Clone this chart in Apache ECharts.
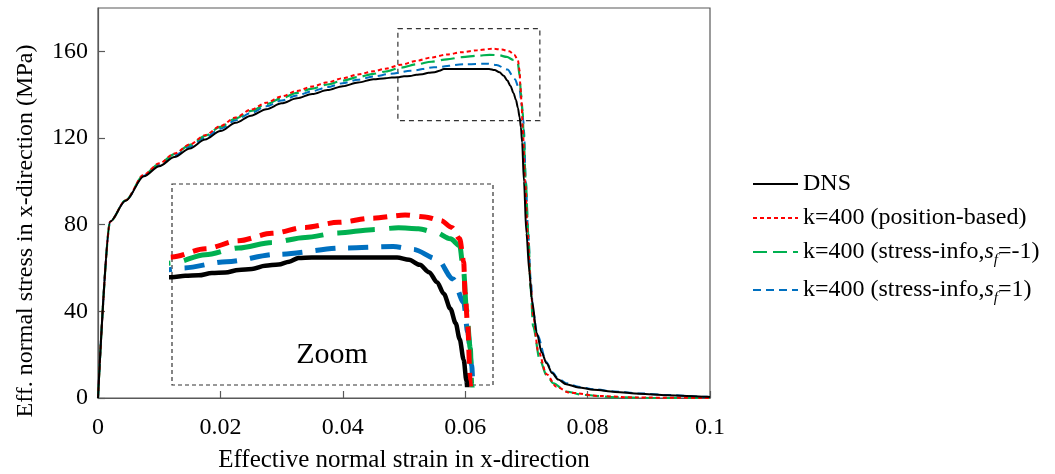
<!DOCTYPE html>
<html>
<head>
<meta charset="utf-8">
<script src="https://cdn.jsdelivr.net/npm/echarts@6/dist/echarts.min.js"></script>
<style>
html,body{margin:0;padding:0;background:#fff;}
#chart{width:1055px;height:474px;}
</style>
</head>
<body>
<div id="chart"></div>
<script>
// ---- data ----
const xTicks = [0, 0.02, 0.04, 0.06, 0.08, 0.1];
const yTicks = [0, 40, 80, 120, 160];
const yMax = 180;

const seriesNames = ['DNS', 'k=400 (position-based)', 'k=400 (stress-info,sf=-1)', 'k=400 (stress-info,sf=1)'];

const dns = [[0,0],[0.002,81.5],[0.0045,91],[0.0075,102.3],[0.01,107],[0.0125,111.2],[0.015,115.2],[0.0175,119.3],[0.02,123.2],[0.0225,127],[0.025,130.3],[0.0275,133.3],[0.03,136],[0.0325,138.3],[0.035,140.3],[0.0375,142.1],[0.04,143.9],[0.0425,145.6],[0.045,147.1],[0.047,147.6],[0.048,147.9],[0.049,148],[0.05,148.5],[0.051,148.6],[0.052,149.2],[0.053,149.4],[0.054,150.1],[0.055,150.4],[0.0558,151],[0.0565,151.8],[0.0575,151.9],[0.0639,151.9],[0.0648,151.4],[0.0656,150.3],[0.0663,148.7],[0.0669,146.5],[0.0674,144],[0.0679,140.7],[0.0683,137.5],[0.0686,134],[0.0689,129.5],[0.0691,125],[0.0693,118],[0.0696,100],[0.07,76],[0.0705,58],[0.0709,45],[0.0717,30],[0.0725,21],[0.0733,16],[0.0742,11.5],[0.0752,8.5],[0.0765,6.4],[0.0785,4.9],[0.081,3.8],[0.0845,2.8],[0.0885,2],[0.093,1.3],[0.0995,0.6],[0.1,0.5]];

const positionBased = [[0,0],[0.002,81.5],[0.0045,91.2],[0.0075,103.1],[0.01,108.3],[0.0125,112.8],[0.015,117],[0.0175,121.3],[0.02,125.5],[0.0225,129.5],[0.025,133.1],[0.0275,136.3],[0.03,139.2],[0.0325,141.7],[0.035,143.8],[0.0375,145.7],[0.04,147.6],[0.0425,149.3],[0.045,150.8],[0.047,152],[0.0495,153.8],[0.052,155.6],[0.0545,157.2],[0.057,158.5],[0.0595,159.6],[0.062,160.5],[0.0645,161.2],[0.066,160.8],[0.0672,160],[0.068,158.5],[0.0686,156],[0.0689,151],[0.069,144.3],[0.0692,137],[0.0694,124],[0.0698,100],[0.0702,76],[0.0707,52],[0.0711,38],[0.0719,22],[0.0733,11],[0.0749,5.2],[0.077,2.5],[0.082,0.9],[0.088,0.2],[0.1,0]];

const stressInfoNeg = [[0,0],[0.002,81.5],[0.0045,91.2],[0.0075,103],[0.01,108.1],[0.0125,112.6],[0.015,116.8],[0.0175,121],[0.02,125.1],[0.0225,129],[0.025,132.5],[0.0275,135.6],[0.03,138.4],[0.0325,140.8],[0.035,142.8],[0.0375,144.7],[0.04,146.5],[0.0425,148.1],[0.045,149.6],[0.047,150.7],[0.0495,152.5],[0.052,154],[0.0545,155.2],[0.057,156.3],[0.0595,157.3],[0.062,158],[0.064,158.4],[0.0655,158.2],[0.0668,157.4],[0.0679,156],[0.0686,154.5],[0.0689,148.7],[0.0691,140.7],[0.0694,132],[0.0695,124],[0.0699,100],[0.0703,76],[0.0707,50],[0.0711,33],[0.0722,17.5],[0.0733,10.5],[0.0744,6.8],[0.0765,3],[0.0793,1.4],[0.0847,0.3],[0.09,0],[0.1,0]];

const stressInfoPos = [[0,0],[0.002,81.5],[0.0045,91.1],[0.0075,102.6],[0.01,107.6],[0.0125,111.9],[0.015,116],[0.0175,120.2],[0.02,124.3],[0.0225,128.2],[0.025,131.6],[0.0275,134.6],[0.03,137.3],[0.0325,139.6],[0.035,141.6],[0.0375,143.5],[0.04,145.3],[0.0425,146.9],[0.045,148.4],[0.0478,149.6],[0.0511,151],[0.0549,152.6],[0.0599,154],[0.0636,154.3],[0.0651,153.7],[0.0669,151.6],[0.0681,147.2],[0.0689,142.1],[0.0692,135.6],[0.0695,128.3],[0.0696,124],[0.0699,100],[0.0703,76],[0.0707,55],[0.0711,40],[0.0718,29],[0.0733,16.5],[0.0742,12],[0.0752,9],[0.0765,6.8],[0.0785,5.2],[0.081,4],[0.0845,3],[0.0885,2.1],[0.093,1.4],[0.0995,0.6],[0.1,0.5]];

// zoom window marked on main plot, and the range shown in the inset
const zoomBoxStrain = [0.049, 0.0722];
const zoomBoxStress = [128, 170.5];
const insetStrain = [0.047, 0.0711];
const insetStress = [124, 168];

// ---- styles ----
const FONT = 'Liberation Serif';
const colors = ['#000000', '#FF0000', '#00B050', '#0070C0'];
const mainDash = ['solid', [4, 3], [14, 6], [8, 5]];
const mainWidth = [2, 2, 2.2, 2];
const insetDash = ['solid', [14, 9], [38, 14], [20, 13]];
const insetWidth = [4.5, 5, 5, 5];
const datasets = [dns, positionBased, stressInfoNeg, stressInfoPos];

const series = [];
datasets.forEach((d, i) => {
  const s = {
    name: seriesNames[i], type: 'line', data: d,
    xAxisIndex: 0, yAxisIndex: 0,
    symbol: 'none', smooth: 0.3, smoothMonotone: 'x',
    lineStyle: {color: colors[i], width: mainWidth[i], type: mainDash[i]},
    itemStyle: {color: colors[i]},
    z: 10 - i, silent: true, animation: false
  };
  if (i === 0) {
    s.markArea = {
      silent: true,
      itemStyle: {color: 'rgba(0,0,0,0)', borderColor: '#333', borderWidth: 1.2, borderType: [5, 4]},
      data: [[{coord: [zoomBoxStrain[0], zoomBoxStress[1]]}, {coord: [zoomBoxStrain[1], zoomBoxStress[0]]}]]
    };
  }
  series.push(s);
});
datasets.forEach((d, i) => {
  series.push({
    name: seriesNames[i], type: 'line', data: d,
    xAxisIndex: 1, yAxisIndex: 1,
    symbol: 'none', smooth: 0.3, smoothMonotone: 'x', clip: true,
    lineStyle: {color: colors[i], width: insetWidth[i], type: insetDash[i]},
    itemStyle: {color: colors[i]},
    z: 10 - i, silent: true, animation: false
  });
});

const legendRich = {
  n: {fontFamily: FONT, fontSize: 24, color: '#000', lineHeight: 26, verticalAlign: 'middle'},
  it: {fontFamily: FONT, fontSize: 24, fontStyle: 'italic', color: '#000', lineHeight: 26},
  sub: {fontFamily: FONT, fontSize: 15, fontStyle: 'italic', color: '#000', lineHeight: 26, verticalAlign: 'bottom', padding: [0, 0, -3, 0]}
};

const chart = echarts.init(document.getElementById('chart'), null, {renderer: 'canvas'});
chart.setOption({
  backgroundColor: '#fff',
  animation: false,
  grid: [
    {left: 98, right: 345, top: 8, bottom: 76, outerBoundsMode: 'none', containLabel: false, show: true, borderColor: '#595959', borderWidth: 1.2, backgroundColor: 'rgba(0,0,0,0)', z: 0},
    {left: 172, width: 321, top: 184, height: 201, outerBoundsMode: 'none', containLabel: false, show: true, borderColor: '#333', borderWidth: 1.2, borderType: [4, 3], backgroundColor: 'rgba(0,0,0,0)'}
  ],
  xAxis: [
    {
      type: 'value', gridIndex: 0, min: xTicks[0], max: xTicks[xTicks.length - 1], interval: xTicks[1] - xTicks[0],
      name: 'Effective normal strain in x-direction', nameLocation: 'middle', nameGap: 50,
      nameTextStyle: {fontFamily: FONT, fontSize: 25, color: '#000'},
      axisLine: {show: true, onZero: false, lineStyle: {color: '#595959', width: 1.2}},
      axisTick: {show: true, inside: true, length: 7, lineStyle: {color: '#595959', width: 1.2}},
      axisLabel: {fontFamily: FONT, fontSize: 24, color: '#000', margin: 18},
      splitLine: {show: false}
    },
    {type: 'value', gridIndex: 1, min: insetStrain[0], max: insetStrain[1], show: false, splitLine: {show: false}}
  ],
  yAxis: [
    {
      type: 'value', gridIndex: 0, min: yTicks[0], max: yMax, interval: yTicks[1] - yTicks[0],
      name: 'Eff. normal stress in x-direction (MPa)', nameLocation: 'middle', nameGap: 60,
      nameTextStyle: {fontFamily: FONT, fontSize: 24, color: '#000', padding: [0, 56, 0, 0]},
      axisLine: {show: true, onZero: false, lineStyle: {color: '#595959', width: 1.2}},
      axisTick: {show: true, inside: true, length: 7, lineStyle: {color: '#595959', width: 1.2}},
      axisLabel: {fontFamily: FONT, fontSize: 24, color: '#000', margin: 10, showMaxLabel: false},
      splitLine: {show: false}
    },
    {type: 'value', gridIndex: 1, min: insetStress[0], max: insetStress[1], show: false, splitLine: {show: false}}
  ],
  legend: {
    orient: 'vertical', left: 752, top: 172, padding: 0,
    data: seriesNames,
    itemWidth: 45, itemHeight: 12, itemGap: 10,
    itemStyle: {opacity: 0},
    textStyle: {fontFamily: FONT, fontSize: 24, color: '#000', rich: legendRich},
    formatter: function (name) {
      if (name === seriesNames[2]) return '{n|k=400 (stress-info,}{it|s}{sub|f}{n|=-1)}';
      if (name === seriesNames[3]) return '{n|k=400 (stress-info,}{it|s}{sub|f}{n|=1)}';
      return '{n|' + name + '}';
    },
    selectedMode: false
  },
  graphic: [
    {type: 'text', x: 332, y: 355, style: {text: 'Zoom', font: '30px "Liberation Serif"', fill: '#000', textAlign: 'center', textVerticalAlign: 'middle'}, z: 100}
  ],
  series: series
});
</script>
</body>
</html>
